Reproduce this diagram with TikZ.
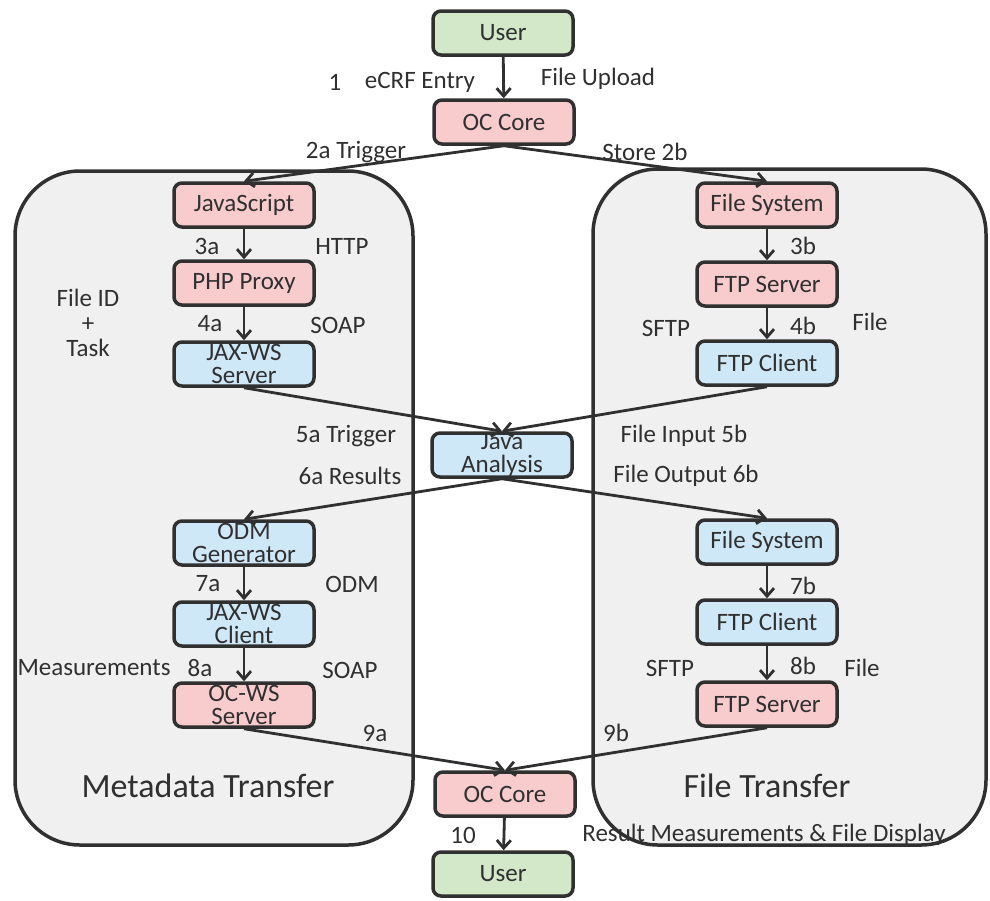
\documentclass[tikz,border=0pt]{standalone}
\usepackage{fontspec}
\setmainfont{Carlito}
\usetikzlibrary{arrows.meta}
\definecolor{BoxGreen}{HTML}{D2E8C8}
\definecolor{BoxRed}{HTML}{F8CBCD}
\definecolor{BoxBlue}{HTML}{CFE8F8}
\definecolor{PanelGray}{HTML}{F0F0F0}
\definecolor{LineGray}{HTML}{303030}

\begin{document}
\begin{tikzpicture}[x=1pt, y=-1pt,
    box/.style={draw=LineGray, line width=3.5pt, rounded corners=8pt, minimum width=140pt,
        minimum height=44pt, inner sep=0pt, align=center, text=LineGray,
        font=\fontsize{25}{23.5}\selectfont},
    userbox/.style={box, fill=BoxGreen},
    redbox/.style={box, fill=BoxRed},
    bluebox/.style={box, fill=BoxBlue},
    flow/.style={draw=LineGray, line width=2.8pt, -{Straight Barb[length=8pt, width=14pt, line width=2.8pt]}},
    lbl/.style={text=LineGray, font=\fontsize{25}{26}\selectfont, inner sep=0pt},
    title/.style={text=LineGray, font=\fontsize{34}{36}\selectfont, inner sep=0pt}]
    \useasboundingbox (0,0) rectangle (990,900);

    % Panels
    \draw[LineGray, fill=PanelGray, line width=3.5pt, rounded corners=65pt] (15,171) rectangle (413,845);
    \draw[LineGray, fill=PanelGray, line width=3.5pt, rounded corners=65pt] (593,169) rectangle (986,845);
    \node[title] (metatitle) at (208,786) {Metadata Transfer};
    \node[title] (filetitle) at (767,786) {File Transfer};

    % Top
    \node[userbox] (usertop) at (503,33) {User};
    \node[redbox] (coretop) at (504,122) {OC Core};

    % Metadata transfer
    \node[redbox] (js) at (244,205) {JavaScript};
    \node[redbox] (php) at (244,283) {PHP Proxy};
    \node[bluebox] (jaxserver) at (244,364) {JAX-WS\\Server};
    \node[bluebox] (odm) at (244,543) {ODM\\Generator};
    \node[bluebox] (jaxclient) at (244,624) {JAX-WS\\Client};
    \node[redbox] (ocws) at (244,705) {OC-WS\\Server};

    % File transfer
    \node[redbox] (fsin) at (767,205) {File System};
    \node[redbox] (ftpserverin) at (767,284) {FTP Server};
    \node[bluebox] (ftpclientin) at (767,363) {FTP Client};
    \node[bluebox] (fsout) at (767,542) {File System};
    \node[bluebox] (ftpclientout) at (767,622) {FTP Client};
    \node[redbox] (ftpserverout) at (767,704) {FTP Server};

    % Middle and bottom
    \node[bluebox] (java) at (502,455) {Java\\Analysis};
    \node[redbox] (corebot) at (505,794) {OC Core};
    \node[userbox] (userbot) at (503,874) {User};

    % Connectors
    \draw[flow] (usertop) -- (coretop);
    \draw[flow] (coretop.south) -- (js.north);
    \draw[flow] (coretop.south) -- (fsin.north);
    \draw[flow] (js) -- (php);
    \draw[flow] (php) -- (jaxserver);
    \draw[flow] (fsin) -- (ftpserverin);
    \draw[flow] (ftpserverin) -- (ftpclientin);
    \draw[flow] (jaxserver.south) -- (java.north);
    \draw[flow] (ftpclientin.south) -- (java.north);
    \draw[flow] (java.south) -- (odm.north);
    \draw[flow] (java.south) -- (fsout.north);
    \draw[flow] (odm) -- (jaxclient);
    \draw[flow] (jaxclient) -- (ocws);
    \draw[flow] (fsout) -- (ftpclientout);
    \draw[flow] (ftpclientout) -- (ftpserverout);
    \draw[flow] (ocws.south) -- (corebot.north);
    \draw[flow] (ftpserverout.south) -- (corebot.north);
    \draw[flow] (corebot) -- (userbot);

    % Labels
    \node[lbl] (l1) at (335,82) {1};
    \node[lbl] (lecrf) at (420,82) {eCRF Entry};
    \node[lbl] (lupload) at (598,79) {File Upload};
    \node[lbl] (l2a) at (356,152) {2a Trigger};
    \node[lbl] (l2b) at (645,152) {Store 2b};
    \node[lbl] (l3a) at (207,246) {3a};
    \node[lbl] (lhttp) at (342,246) {HTTP};
    \node[lbl, align=center, font=\fontsize{25}{25}\selectfont] (lfileid) at (88,323) {File ID\\+\\Task};
    \node[lbl] (l4a) at (210,324) {4a};
    \node[lbl] (lsoapa) at (338,325) {SOAP};
    \node[lbl] (l3b) at (803,246) {3b};
    \node[lbl] (lsftpa) at (666,328) {SFTP};
    \node[lbl] (l4b) at (803,326) {4b};
    \node[lbl] (lfilea) at (870,322) {File};
    \node[lbl] (l5a) at (346,436) {5a Trigger};
    \node[lbl] (l6a) at (350,476) {6a Results};
    \node[lbl] (l5b) at (684,436) {File Input 5b};
    \node[lbl] (l6b) at (686,476) {File Output 6b};
    \node[lbl] (l7a) at (208,584) {7a};
    \node[lbl] (lodm) at (352,584) {ODM};
    \node[lbl] (l7b) at (803,586) {7b};
    \node[lbl] (lmeas) at (94,668) {Measurements};
    \node[lbl] (l8a) at (200,668) {8a};
    \node[lbl] (lsoapb) at (350,670) {SOAP};
    \node[lbl] (lsftpb) at (670,668) {SFTP};
    \node[lbl] (l8b) at (803,666) {8b};
    \node[lbl] (lfileb) at (862,668) {File};
    \node[lbl] (l9a) at (375,733) {9a};
    \node[lbl] (l9b) at (616,733) {9b};
    \node[lbl] (l10) at (463,835) {10};
    \node[lbl] (lresult) at (764,835) {Result Measurements \& File Display};
\end{tikzpicture}
\end{document}
